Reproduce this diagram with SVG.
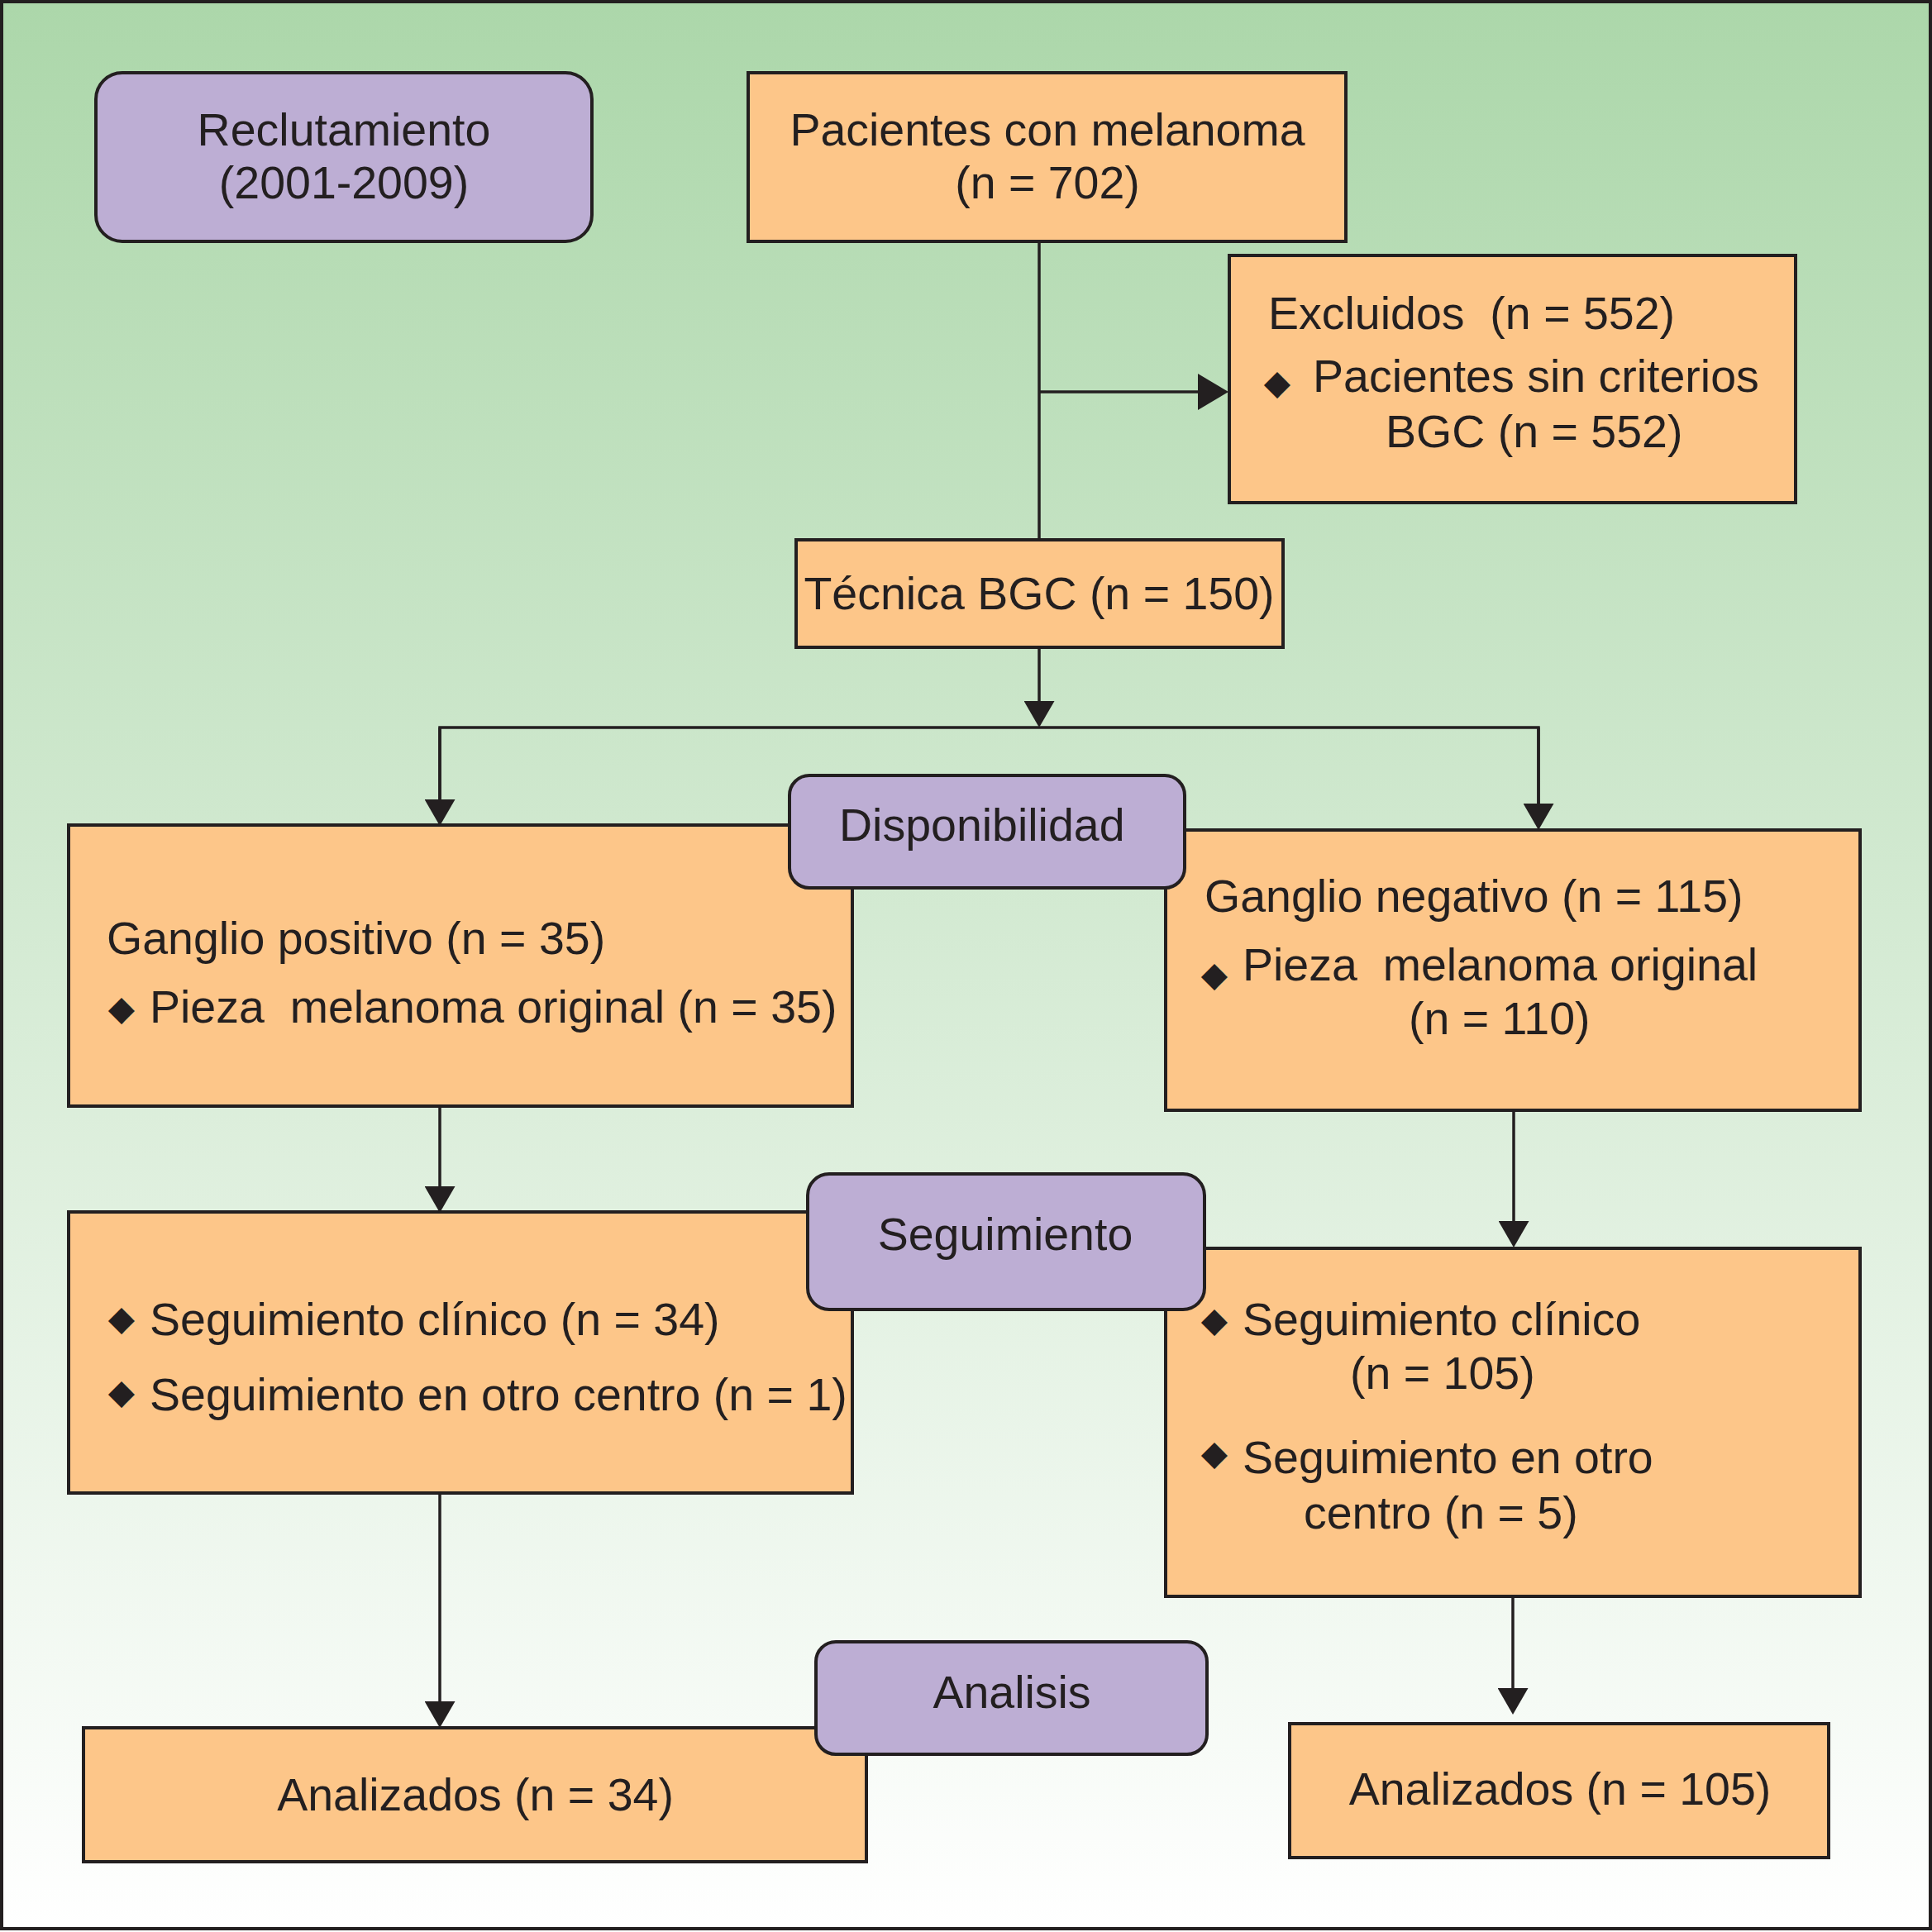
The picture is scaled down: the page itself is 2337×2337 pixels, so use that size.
<svg xmlns="http://www.w3.org/2000/svg" width="2337" height="2337" viewBox="0 0 2337 2337">
<style>
.box{fill:#fdc689;stroke:#231f20;stroke-width:4}
.lab{fill:#bdaed4;stroke:#231f20;stroke-width:4}
.t{font-family:"Liberation Sans",Arial,Helvetica,sans-serif;font-size:55.5px;fill:#231f20}
.m{text-anchor:middle}
.b{font-family:"DejaVu Sans",sans-serif;font-size:42px;fill:#231f20;text-anchor:middle}
.c{fill:none;stroke:#231f20;stroke-width:3.5}
</style>
<defs>
<linearGradient id="bg" x1="0" y1="0" x2="0" y2="1">
<stop offset="0" stop-color="#acd7aa"/>
<stop offset="1" stop-color="#ffffff"/>
</linearGradient>
<marker id="ah" markerUnits="userSpaceOnUse" markerWidth="32" markerHeight="37" refX="0" refY="18.5" orient="auto" viewBox="0 0 32 37">
<path d="M0,0 L32,18.5 L0,37 Z" fill="#231f20"/>
</marker>
<marker id="ahl" markerUnits="userSpaceOnUse" markerWidth="37" markerHeight="44" refX="0" refY="22" orient="auto" viewBox="0 0 37 44">
<path d="M0,0 L37,22 L0,44 Z" fill="#231f20"/>
</marker>
</defs>
<rect x="2" y="2" width="2333" height="2331" fill="url(#bg)" stroke="#231f20" stroke-width="4"/>

<g id="connectors">
<path class="c" d="M1257,292 V653"/>
<path class="c" d="M1257,474 H1449" marker-end="url(#ahl)"/>
<path class="c" d="M1257,783 V848" marker-end="url(#ah)"/>
<path class="c" d="M532,967 V880 H1861 V972"/>
<path class="c" d="M532,880 V967" marker-end="url(#ah)"/>
<path class="c" d="M1861,880 V972" marker-end="url(#ah)"/>
<path class="c" d="M532,1338 V1435" marker-end="url(#ah)"/>
<path class="c" d="M1831,1343 V1477" marker-end="url(#ah)"/>
<path class="c" d="M532,1806 V2058" marker-end="url(#ah)"/>
<path class="c" d="M1830,1931 V2042" marker-end="url(#ah)"/>
</g>

<g id="reclutamiento">
<rect class="lab" x="116" y="88" width="600" height="204" rx="32"/>
<text class="t m" x="416" y="176">Reclutamiento</text>
<text class="t m" x="416" y="240">(2001-2009)</text>
</g>

<g id="pacientes">
<rect class="box" x="905" y="88" width="723" height="204"/>
<text class="t m" x="1267" y="176">Pacientes con melanoma</text>
<text class="t m" x="1267" y="240">(n = 702)</text>
</g>

<g id="excluidos">
<rect class="box" x="1487" y="309" width="685" height="299"/>
<text class="t" x="1534" y="398" xml:space="preserve">Excluidos  (n = 552)</text>
<text class="b" x="1545" y="477">◆</text>
<text class="t" x="1588" y="474">Pacientes sin criterios</text>
<text class="t" x="1676" y="541">BGC (n = 552)</text>
</g>

<g id="tecnica">
<rect class="box" x="963" y="653" width="589" height="130"/>
<text class="t m" x="1257" y="737">Técnica BGC (n = 150)</text>
</g>

<g id="ganglio-positivo">
<rect class="box" x="83" y="998" width="948" height="340"/>
<text class="t" x="129" y="1154">Ganglio positivo (n = 35)</text>
<text class="b" x="147" y="1234">◆</text>
<text class="t" x="181" y="1237" xml:space="preserve">Pieza  melanoma original (n = 35)</text>
</g>

<g id="ganglio-negativo">
<rect class="box" x="1410" y="1004" width="840" height="339"/>
<text class="t" x="1457" y="1103">Ganglio negativo (n = 115)</text>
<text class="b" x="1469" y="1193">◆</text>
<text class="t" x="1503" y="1186" xml:space="preserve">Pieza  melanoma original</text>
<text class="t" x="1704" y="1251">(n = 110)</text>
</g>

<g id="disponibilidad">
<rect class="lab" x="955" y="938" width="478" height="136" rx="24"/>
<text class="t" x="1015" y="1017">Disponibilidad</text>
</g>

<g id="seguimiento-positivo">
<rect class="box" x="83" y="1466" width="948" height="340"/>
<text class="b" x="147" y="1609">◆</text>
<text class="t" x="181" y="1615">Seguimiento clínico (n = 34)</text>
<text class="b" x="147" y="1698">◆</text>
<text class="t" x="181" y="1706">Seguimiento en otro centro (n = 1)</text>
</g>

<g id="seguimiento-negativo">
<rect class="box" x="1410" y="1510" width="840" height="421"/>
<text class="b" x="1469" y="1611">◆</text>
<text class="t" x="1503" y="1615">Seguimiento clínico</text>
<text class="t" x="1633" y="1680">(n = 105)</text>
<text class="b" x="1469" y="1772">◆</text>
<text class="t" x="1503" y="1782">Seguimiento en otro</text>
<text class="t" x="1577" y="1849">centro (n = 5)</text>
</g>

<g id="seguimiento">
<rect class="lab" x="977" y="1420" width="480" height="164" rx="26"/>
<text class="t m" x="1216" y="1512">Seguimiento</text>
</g>

<g id="analizados-positivo">
<rect class="box" x="101" y="2090" width="947" height="162"/>
<text class="t m" x="575" y="2190">Analizados (n = 34)</text>
</g>

<g id="analizados-negativo">
<rect class="box" x="1560" y="2085" width="652" height="162"/>
<text class="t m" x="1887" y="2183">Analizados (n = 105)</text>
</g>

<g id="analisis">
<rect class="lab" x="987" y="1986" width="473" height="136" rx="24"/>
<text class="t m" x="1224" y="2066">Analisis</text>
</g>
</svg>
